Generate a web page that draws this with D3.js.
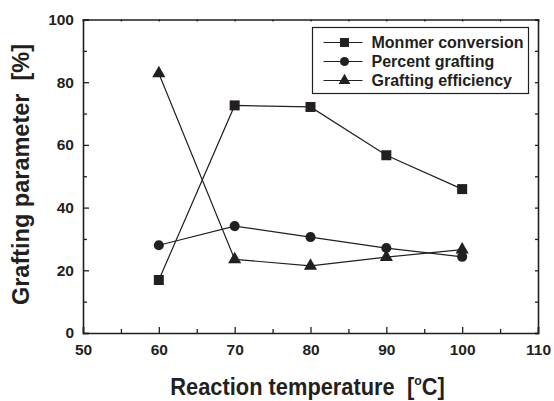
<!DOCTYPE html>
<html>
<head>
<meta charset="utf-8">
<script src="https://cdn.jsdelivr.net/npm/d3@7"></script>
<style>
  body { margin: 0; background: #fff; }
  svg text { font-family: "Liberation Sans", Arial, sans-serif; font-weight: bold; fill: #231f20; white-space: pre; }
</style>
</head>
<body>
<svg id="chart" width="554" height="401"></svg>
<script>
// data
const temps = [60, 70, 80, 90, 100];
const monomerConversion = [16.9, 72.6, 72.1, 56.7, 45.9];
const percentGrafting = [28.0, 34.1, 30.6, 27.1, 24.3];
const graftingEfficiency = [82.8, 23.5, 21.4, 24.2, 26.6];
const xTicks = [50, 60, 70, 80, 90, 100, 110];
const yTicks = [0, 20, 40, 60, 80, 100];

const series = [
  { name: 'Monmer conversion', values: monomerConversion, symbol: d3.symbolSquare, size: 100 },
  { name: 'Percent grafting', values: percentGrafting, symbol: d3.symbolCircle, size: 80 },
  { name: 'Grafting efficiency', values: graftingEfficiency, symbol: d3.symbolTriangle, size: 75 }
];

const ink = '#231f20';
const margin = { top: 19.5, right: 16, bottom: 68, left: 83 };
const width = 554 - margin.left - margin.right;
const height = 401 - margin.top - margin.bottom;

const svg = d3.select('#chart');
const g = svg.append('g').attr('transform', `translate(${margin.left},${margin.top})`);

const x = d3.scaleLinear().domain([50, 110]).range([0, width]);
const y = d3.scaleLinear().domain([0, 100]).range([height, 0]);

// minor ticks
const xMinor = d3.range(55, 110, 10);
const yMinor = d3.range(10, 100, 20);

// bottom + left axes, ticks pointing inward
g.append('g').attr('transform', `translate(0,${height})`)
  .call(d3.axisBottom(x).tickValues(xTicks).tickSize(-6).tickPadding(11).tickFormat(d3.format('d')));
g.append('g').attr('transform', `translate(0,${height})`)
  .call(d3.axisBottom(x).tickValues(xMinor).tickSize(-4).tickFormat(''))
  .call(a => a.select('.domain').remove());

g.append('g')
  .call(d3.axisLeft(y).tickValues(yTicks).tickSize(-6).tickPadding(9).tickFormat(d3.format('d')));
g.append('g')
  .call(d3.axisLeft(y).tickValues(yMinor).tickSize(-4).tickFormat(''))
  .call(a => a.select('.domain').remove());

// top and right axes, short inward ticks
g.append('g')
  .call(d3.axisTop(x).tickValues(xTicks.concat(xMinor)).tickSize(-2).tickFormat(''));
g.append('g').attr('transform', `translate(${width},0)`)
  .call(d3.axisRight(y).tickValues(yTicks.concat(yMinor)).tickSize(-3).tickFormat(''));

g.selectAll('.domain').attr('stroke', ink).attr('stroke-width', 1.6);
g.selectAll('.tick line').attr('stroke', ink).attr('stroke-width', 1.3);
g.selectAll('.tick text').attr('font-size', 15.5).attr('fill', ink);

// axis titles
const xTitle = svg.append('text')
  .attr('transform', 'translate(307.5,395) scale(0.95,1)')
  .attr('text-anchor', 'middle').attr('font-size', 23);
xTitle.append('tspan').text('Reaction temperature  [');
xTitle.append('tspan').attr('font-size', 13).attr('dy', -10).text('o');
xTitle.append('tspan').attr('dy', 10).text('C]');

svg.append('text')
  .attr('transform', 'translate(29,174.5) rotate(-90)')
  .attr('text-anchor', 'middle').attr('font-size', 23.5)
  .text('Grafting parameter  [%]');

// lines + markers
const line = d3.line().x((d, i) => x(temps[i])).y(d => y(d));

series.forEach(s => {
  g.append('path')
    .datum(s.values)
    .attr('fill', 'none').attr('stroke', ink).attr('stroke-width', 1.2)
    .attr('d', line);
  g.selectAll(null)
    .data(s.values)
    .enter().append('path')
    .attr('transform', (d, i) => `translate(${x(temps[i])},${y(d)})`)
    .attr('d', d3.symbol().type(s.symbol).size(s.size))
    .attr('fill', ink);
});

// legend
const legend = svg.append('g').attr('transform', 'translate(312.5,27.5)');
legend.append('rect')
  .attr('width', 216).attr('height', 66)
  .attr('fill', '#fff').attr('stroke', ink).attr('stroke-width', 1.2);

series.forEach((s, i) => {
  const row = legend.append('g').attr('transform', `translate(0,${15 + i * 19})`);
  row.append('line').attr('x1', 11).attr('x2', 50).attr('stroke', ink).attr('stroke-width', 1.2);
  row.append('path').attr('transform', 'translate(32,0)')
    .attr('d', d3.symbol().type(s.symbol).size(s.size * 0.8)).attr('fill', ink);
  row.append('text').attr('x', 59).attr('y', 5.5).attr('font-size', 16).text(s.name);
});
</script>
</body>
</html>
